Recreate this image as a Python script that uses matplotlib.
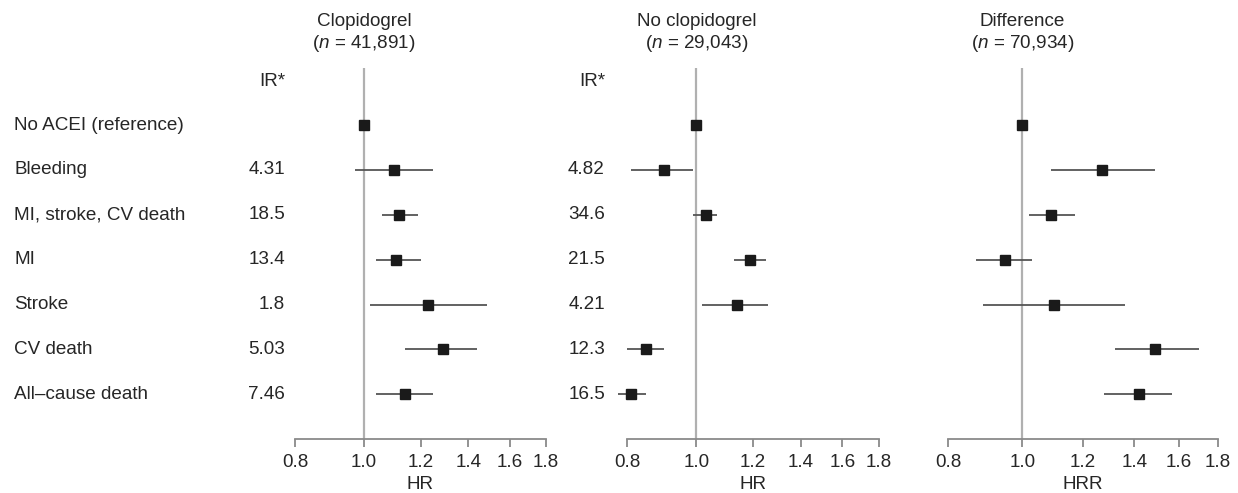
import numpy as np
import matplotlib
matplotlib.use("Agg")
import matplotlib.pyplot as plt
from matplotlib import transforms
from matplotlib.ticker import FixedLocator, NullLocator

plt.rcParams['font.family'] = ['Liberation Sans', 'DejaVu Sans']
plt.rcParams['mathtext.fontset'] = 'custom'
plt.rcParams['mathtext.rm'] = 'Liberation Sans'
plt.rcParams['mathtext.it'] = 'Liberation Sans:italic'

# data
outcomes = ["No ACEI (reference)", "Bleeding", "MI, stroke, CV death", "MI",
            "Stroke", "CV death", "All\u2013cause death"]

ir_clop = ["", "4.31", "18.5", "13.4", "1.8", "5.03", "7.46"]
ir_noclop = ["", "4.82", "34.6", "21.5", "4.21", "12.3", "16.5"]

hr_clop = [1.00, 1.10, 1.12, 1.11, 1.23, 1.29, 1.14]
lo_clop = [1.00, 0.97, 1.06, 1.04, 1.02, 1.14, 1.04]
hi_clop = [1.00, 1.25, 1.19, 1.20, 1.49, 1.44, 1.25]

hr_noclop = [1.00, 0.90, 1.03, 1.19, 1.14, 0.85, 0.81]
lo_noclop = [1.00, 0.81, 0.99, 1.13, 1.02, 0.80, 0.776]
hi_noclop = [1.00, 0.99, 1.07, 1.25, 1.26, 0.90, 0.85]

hrr_diff = [1.00, 1.27, 1.09, 0.95, 1.10, 1.49, 1.42]
lo_diff = [1.00, 1.09, 1.02, 0.87, 0.89, 1.32, 1.28]
hi_diff = [1.00, 1.49, 1.17, 1.03, 1.36, 1.70, 1.57]

titles = ["Clopidogrel", "No clopidogrel", "Difference"]
ns = ["41,891", "29,043", "70,934"]
xlabels = ["HR", "HR", "HRR"]
xticks = [0.8, 1.0, 1.2, 1.4, 1.6, 1.8]

W, H = 1238, 493
fig = plt.figure(figsize=(W / 100, H / 100), dpi=100)

# axes boxes in pixels: left, width
boxes = [(295, 251), (627, 252), (948, 270)]
top_px, bot_px = 68, 439

FS = 13.6
TXT = '#262626'
rows = np.arange(len(outcomes))

panels = [(hr_clop, lo_clop, hi_clop),
          (hr_noclop, lo_noclop, hi_noclop),
          (hrr_diff, lo_diff, hi_diff)]

axes = []
for k, (left, width) in enumerate(boxes):
    ax = fig.add_axes([left / W, 1 - bot_px / H, width / W, (bot_px - top_px) / H])
    axes.append(ax)
    est, lo, hi = panels[k]
    ax.set_xscale('log')
    ax.set_xlim(0.8, 1.8)
    ax.set_ylim(6.996, -1.27)
    ax.axvline(1.0, color='#b0b0b0', lw=1.6, zorder=1)
    ax.hlines(rows, lo, hi, color='#555555', lw=1.3, zorder=2, clip_on=False)
    ax.plot(est, rows, 's', color='#1a1a1a', ms=7.7, zorder=3, clip_on=False)

    for s in ['top', 'right', 'left']:
        ax.spines[s].set_visible(False)
    ax.spines['bottom'].set_color('#8a8a8a')
    ax.spines['bottom'].set_linewidth(1.3)
    ax.yaxis.set_major_locator(NullLocator())
    ax.xaxis.set_major_locator(FixedLocator(xticks))
    ax.xaxis.set_minor_locator(NullLocator())
    ax.set_xticklabels(["%.1f" % t for t in xticks])
    ax.tick_params(axis='x', direction='out', length=6, width=1.3,
                   color='#8a8a8a', labelsize=FS, pad=4.5, labelcolor=TXT)
    ax.set_xlabel(xlabels[k], fontsize=FS, color=TXT, labelpad=4)

    tr = transforms.blended_transform_factory(ax.transData, fig.transFigure)
    ax.text(1.0, 1 - 21 / H, titles[k], transform=tr, ha='center', va='center',
            fontsize=FS, color=TXT)
    ax.text(1.0, 1 - 43 / H, r"($\it{n}$ = " + ns[k] + ")", transform=tr,
            ha='center', va='center', fontsize=FS, color=TXT)

# row labels
trl = transforms.blended_transform_factory(fig.transFigure, axes[0].transData)
for i, lab in enumerate(outcomes):
    fig.text(14 / W, i, lab, transform=trl, ha='left', va='center',
             fontsize=FS, color=TXT)

# incidence rates
for ax, xr, irs in [(axes[0], 285, ir_clop), (axes[1], 605, ir_noclop)]:
    tri = transforms.blended_transform_factory(fig.transFigure, ax.transData)
    fig.text(xr / W, -0.96, "IR*", transform=tri, ha='right', va='center',
             fontsize=FS, color=TXT)
    for i, v in enumerate(irs):
        if v:
            fig.text(xr / W, i, v, transform=tri, ha='right', va='center',
                     fontsize=FS, color=TXT)

fig.savefig("out.png", dpi=100)
